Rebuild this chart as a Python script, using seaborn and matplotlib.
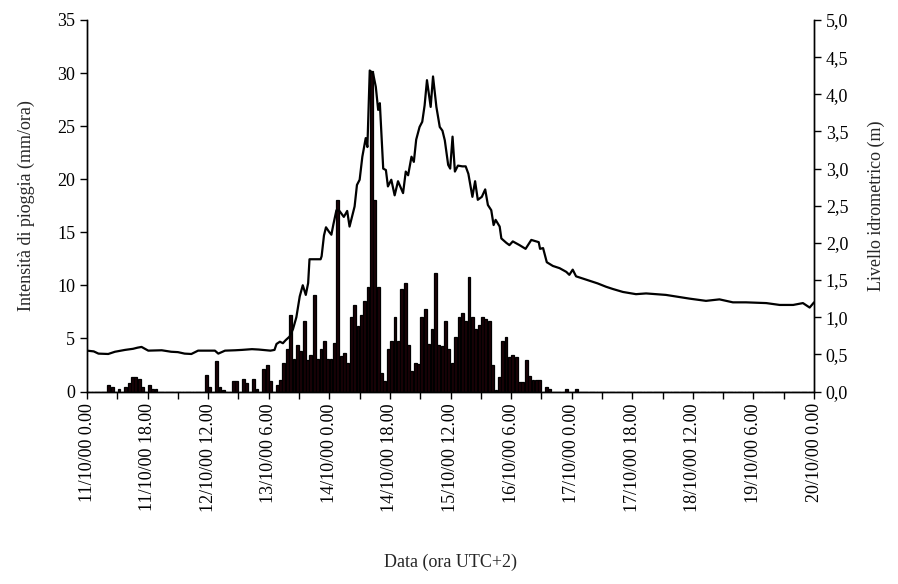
import numpy as np
import pandas as pd
import matplotlib
matplotlib.use('Agg')
import matplotlib.pyplot as plt
import seaborn as sns

# pioggia oraria (mm/ora), un valore per ogni ora dal 11/10/00 0.00
rain = np.zeros(216)
rain_hours = [6, 7, 9, 11, 12, 13, 14, 15, 16, 18, 19, 20,
              35, 36, 38, 39, 40, 43, 44, 46, 47, 49, 50, 52, 53, 54, 56, 57,
              58, 59, 60, 61, 62, 63, 64, 65, 66, 67, 68, 69, 70, 71, 72, 73,
              74, 75, 76, 77, 78, 79, 80, 81, 82, 83, 84, 85, 86, 87, 88, 89,
              90, 91, 92, 93, 94, 95, 96, 97, 98, 99, 100, 101, 102, 103, 104,
              105, 106, 107, 108, 109, 110, 111, 112, 113, 114, 115, 116, 117,
              118, 119, 120, 121, 122, 123, 124, 125, 126, 127, 128, 129, 130,
              131, 132, 133, 134, 136, 137, 142, 145]
rain_vals = [0.63, 0.44, 0.22, 0.44, 0.79, 1.38, 1.38, 1.16, 0.41, 0.63, 0.25, 0.25,
             1.57, 0.41, 2.86, 0.41, 0.16, 0.97, 0.97, 1.16, 0.82, 1.16, 0.22, 2.1, 2.5, 0.97, 0.6, 1.13,
             2.64, 3.96, 7.2, 3.02, 4.34, 3.77, 6.6, 2.96, 3.4, 9.09, 3.02, 3.96, 4.72, 3.02, 3.02, 4.53,
             18.0, 3.3, 3.67, 2.73, 7.05, 8.15, 6.18, 7.2, 8.56, 9.87, 30.2, 18.0, 9.87, 1.72, 1.03, 4.0,
             4.8, 7.05, 4.8, 9.65, 10.2, 4.4, 1.92, 2.67, 2.55, 7.0, 7.8, 4.43, 5.9, 11.2, 4.4,
             4.3, 6.6, 4.0, 2.7, 5.1, 7.0, 7.4, 6.6, 10.8, 7.0, 5.9, 6.25, 7.0,
             6.8, 6.6, 2.5, 0.15, 1.4, 4.8, 5.15, 3.27, 3.46, 3.27, 0.9, 0.9, 3.0,
             1.5, 1.04, 1.04, 1.04, 0.4, 0.22, 0.22, 0.22]
rain[rain_hours] = rain_vals

# livello idrometrico (m)
level_hours = [0, 2, 3.4, 6.3, 8.3, 11.3, 13.7, 15, 16.2, 17, 18.2, 22.2, 25, 27, 29, 31,
               33, 36, 38, 39, 41, 44, 46, 49, 51, 54.5, 55.7, 56.3, 57.3, 58.2, 59,
               60.2, 61.2, 62.2, 63.2, 64.1, 65, 65.7, 66.1, 67.5, 69.4, 69.7, 70.4, 71,
               71.9, 72.6, 73.2, 74.1, 75, 76.3, 77.3, 78, 79.5, 80.2, 81, 81.8, 82.8,
               83.3, 84, 85, 85.8, 86.5, 87, 88, 88.8, 89.4, 90.4, 91.4, 92.4, 93.9,
               94.7, 95.4, 96.4, 97.1, 97.8, 98.8, 99.6, 100.3, 101, 102.1, 102.8, 103.8,
               104.8, 105.6, 106.3, 107.3, 107.9, 108.6, 109.3, 110.2, 111.5, 112.5,
               113.3, 114.5, 115.3, 116.1, 117.3, 118.3, 119.1, 120.1, 120.8, 121.4,
               122.6, 123.1, 124.6, 125.5, 126.5, 128.5, 130.3, 132, 133.5, 134.2, 134.6,
               135.5, 136.6, 138.4, 140.4, 142.4, 143.3, 144.3, 145.3, 147.3, 149.3,
               151.7, 154.2, 156.2, 159.2, 163.1, 166.1, 172, 179, 183.9, 187.9, 191.9,
               195.8, 201.8, 205.8, 209.8, 212.7, 214.7, 216]
level_vals = [0.55, 0.54, 0.51, 0.505, 0.535, 0.56, 0.575, 0.59, 0.60, 0.58, 0.55, 0.555, 0.535, 0.53, 0.51, 0.505,
              0.55, 0.55, 0.55, 0.51, 0.55, 0.555, 0.56, 0.57, 0.565, 0.55, 0.56, 0.64, 0.67, 0.65, 0.69,
              0.74, 0.84, 1.0, 1.28, 1.43, 1.30, 1.46, 1.78, 1.78, 1.78, 1.82, 2.1, 2.21,
              2.15, 2.11, 2.25, 2.44, 2.43, 2.35, 2.43, 2.22, 2.49, 2.78, 2.85, 3.16, 3.41,
              3.29, 4.32, 4.28, 4.10, 3.79, 3.88, 3.0, 2.98, 2.76, 2.85, 2.64, 2.83, 2.67,
              2.96, 2.91, 3.16, 3.09, 3.39, 3.56, 3.63, 3.85, 4.19, 3.83, 4.24, 3.83,
              3.56, 3.51, 3.38, 3.05, 3.0, 3.43, 2.96, 3.04, 3.03, 3.03,
              2.93, 2.62, 2.83, 2.58, 2.62, 2.72, 2.51, 2.44, 2.24, 2.31,
              2.22, 2.06, 2.0, 1.97, 2.02, 1.97, 1.92, 2.04, 2.02, 2.01, 1.92,
              1.93, 1.74, 1.69, 1.66, 1.61, 1.57, 1.64, 1.55, 1.52, 1.49,
              1.455, 1.41, 1.38, 1.34, 1.31, 1.32, 1.30, 1.25, 1.22, 1.24, 1.20,
              1.20, 1.19, 1.165, 1.165, 1.19, 1.13, 1.2]

tick_hours = list(range(0, 217, 18))
tick_labels = ['11/10/00 0.00', '11/10/00 18.00', '12/10/00 12.00', '13/10/00 6.00',
               '14/10/00 0.00', '14/10/00 18.00', '15/10/00 12.00', '16/10/00 6.00',
               '17/10/00 0.00', '17/10/00 18.00', '18/10/00 12.00', '19/10/00 6.00',
               '20/10/00 0.00']

sns.set_style('ticks')
plt.rcParams['font.family'] = ['Liberation Serif', 'DejaVu Serif']

df_rain = pd.DataFrame({'ora': np.arange(216) + 0.5, 'pioggia': rain})
df_level = pd.DataFrame({'ora': level_hours, 'livello': level_vals})

fig = plt.figure(figsize=(8.98, 5.84), dpi=100)
ax = fig.add_axes([0.0969, 0.3296, 0.8096, 0.6362])
sns.barplot(data=df_rain, x='ora', y='pioggia', native_scale=True, width=0.85,
            color='#1c0307', saturation=1, edgecolor='black', linewidth=0.9, ax=ax)

ax2 = ax.twinx()
sns.lineplot(data=df_level, x='ora', y='livello', color='black', linewidth=1.6, ax=ax2)

ax.set_xlim(0, 216)
ax.set_ylim(0, 35)
ax2.set_ylim(0, 5)
ax.set_yticks(np.arange(0, 36, 5))
ax2.set_yticks(np.arange(0, 5.01, 0.5))
ax2.set_yticklabels([f'{v:.1f}'.replace('.', ',') for v in np.arange(0, 5.01, 0.5)])
ax.set_xticks(tick_hours)
ax.set_xticklabels(tick_labels, rotation=90)
ax.set_xticks(np.arange(9, 216, 18), minor=True)

for a in (ax, ax2):
    a.tick_params(which='both', direction='out', length=5, width=1, labelsize=13, colors='black')
    a.spines['top'].set_visible(False)
    for s in ('left', 'right', 'bottom'):
        a.spines[s].set_linewidth(1)
        a.spines[s].set_color('black')

ax.set_xlabel('Data (ora UTC+2)', fontsize=13, labelpad=30)
ax.set_ylabel('Intensità di pioggia (mm/ora)', fontsize=13, labelpad=16)
ax2.set_ylabel('Livello idrometrico (m)', fontsize=13, labelpad=14)

fig.savefig('out.png', dpi=100)
